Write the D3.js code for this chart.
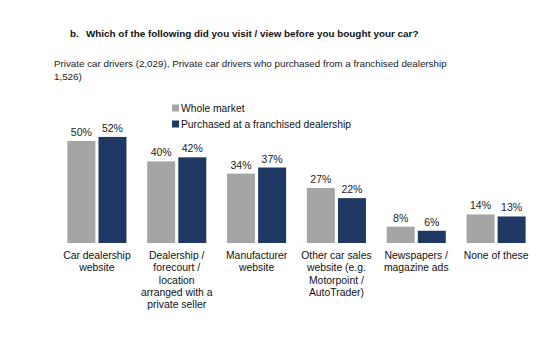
<!DOCTYPE html>
<html>
<head>
<meta charset="utf-8">
<script src="https://cdn.jsdelivr.net/npm/d3@7"></script>
<style>
  body { margin: 0; background: #fff; }
  svg { font-family: "Liberation Sans", Arial, sans-serif; }
</style>
</head>
<body>
<div id="chart"></div>
<script>
// chart data
const categories = [
    ['Car dealership', 'website'],
    ['Dealership /', 'forecourt /', 'location', 'arranged with a', 'private seller'],
    ['Manufacturer', 'website'],
    ['Other car sales', 'website (e.g.', 'Motorpoint /', 'AutoTrader)'],
    ['Newspapers /', 'magazine ads'],
    ['None of these']
];
const seriesNames = ['Whole market', 'Purchased at a franchised dealership'];
const wholeMarket = [50, 40, 34, 27, 8, 14];
const franchised = [52, 42, 37, 22, 6, 13];
const colors = ['#a5a5a5', '#1f3864'];

const width = 555, height = 338;
const svg = d3.select('#chart').append('svg')
    .attr('width', width)
    .attr('height', height);

// title + subtitle
svg.append('text')
    .attr('x', 70).attr('y', 37)
    .style('font-size', '9.9px').style('font-weight', 'bold').style('fill', '#111')
    .text('b.');
svg.append('text')
    .attr('x', 86).attr('y', 37)
    .style('font-size', '9.9px').style('font-weight', 'bold').style('fill', '#111')
    .text('Which of the following did you visit / view before you bought your car?');
svg.append('text')
    .attr('x', 54).attr('y', 67)
    .style('font-size', '9.8px').style('fill', '#222')
    .text('Private car drivers (2,029), Private car drivers who purchased from a franchised dealership');
svg.append('text')
    .attr('x', 54).attr('y', 80)
    .style('font-size', '9.8px').style('fill', '#222')
    .text('1,526)');

// scales
const idx = categories.map((d, i) => i);
const x0 = d3.scaleBand().domain(idx).range([57, 536]).paddingInner(0.26).paddingOuter(0.13);
const x1 = d3.scaleBand().domain([0, 1]).range([0, x0.bandwidth()]).paddingInner(0.1);
const y = d3.scaleLinear().domain([0, 100]).range([243, 39]);

const rows = idx.map(i => [wholeMarket[i], franchised[i]]);

const groups = svg.append('g').attr('class', 'bars')
    .selectAll('g')
    .data(rows)
    .join('g')
    .attr('transform', (d, i) => `translate(${x0(i)},0)`);

groups.selectAll('rect')
    .data(d => d)
    .join('rect')
    .attr('x', (d, j) => x1(j))
    .attr('y', d => y(d))
    .attr('width', x1.bandwidth())
    .attr('height', d => y(0) - y(d))
    .style('fill', (d, j) => colors[j]);

groups.selectAll('text')
    .data(d => d)
    .join('text')
    .attr('x', (d, j) => x1(j) + x1.bandwidth() / 2)
    .attr('y', d => y(d) - 5)
    .attr('text-anchor', 'middle')
    .style('font-size', '10.5px')
    .style('fill', '#222')
    .text(d => d + '%');

// category labels under bars
const axis = svg.append('g').attr('class', 'axis-x');
categories.forEach((lines, i) => {
    const t = axis.append('text')
        .attr('x', x0(i) + x0.bandwidth() / 2)
        .attr('y', 259)
        .attr('text-anchor', 'middle')
        .style('font-size', '10.4px')
        .style('fill', '#111');
    lines.forEach((l, k) => {
        t.append('tspan')
            .attr('x', x0(i) + x0.bandwidth() / 2)
            .attr('dy', k === 0 ? 0 : 12.3)
            .text(l);
    });
});

// legend
const legend = svg.append('g').attr('class', 'legend');
seriesNames.forEach((name, i) => {
    const ly = 108 + i * 16;
    legend.append('rect')
        .attr('x', 172).attr('y', ly - 3.5)
        .attr('width', 7).attr('height', 7)
        .style('fill', colors[i]);
    legend.append('text')
        .attr('x', 181).attr('y', ly + 3.8)
        .style('font-size', '10.3px')
        .style('fill', '#111')
        .text(name);
});
</script>
</body>
</html>
